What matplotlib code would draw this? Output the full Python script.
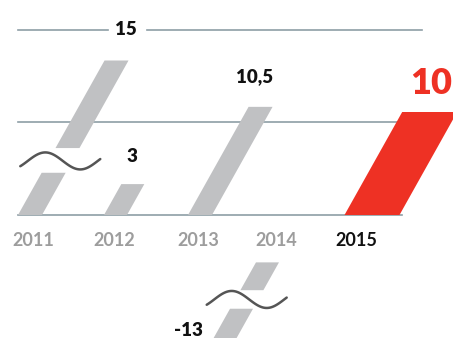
import numpy as np
import matplotlib
matplotlib.use("Agg")
import matplotlib.pyplot as plt
from matplotlib.patches import Polygon

years = ['2011', '2012', '2013', '2014', '2015']
values = [15, 3, 10.5, -13, 10]
value_labels = ['15', '3', '10,5', '-13', '10']

# layout (x in pixels, y in data units)
bar_x = [30, 115.5, 200, 294, 372]
bar_w = [24, 23, 24, 23, 55]
label_x = [33, 114, 198, 276, 356]
colors = ['#c0c1c3', '#c0c1c3', '#c0c1c3', '#c0c1c3', '#ee3124']
year_colors = ['#9d9d9d', '#9d9d9d', '#9d9d9d', '#9d9d9d', '#111111']

scale = 10.3          # px per unit
slant = 0.56 * scale  # x shift per unit of value
grid_levels = [9, 18]

# breaks (value ranges that are not drawn)
gaps = {0: [(4.1, 6.5)], 3: [(-4.6, 0), (-9.1, -7.3)]}
waves = {0: 5.25, 3: -8.2}

fig = plt.figure(figsize=(4.53, 3.38), dpi=100)
ax = fig.add_axes([0, 0, 1, 1])
ax.set_xlim(0, 453)
ax.set_ylim(-123 / scale, 215 / scale)
ax.axis('off')

# grid lines
ax.plot([18, 402], [0, 0], color='#8d9ea6', lw=1.2, zorder=1)
ax.plot([18, 398], [grid_levels[0]] * 2, color='#8d9ea6', lw=1.2, zorder=1)
ax.plot([18, 108], [grid_levels[1]] * 2, color='#8d9ea6', lw=1.2, zorder=1)
ax.plot([147, 422], [grid_levels[1]] * 2, color='#8d9ea6', lw=1.2, zorder=1)


def seg(i, a, b):
    xc, w = bar_x[i], bar_w[i]
    pts = [(xc - w / 2 + slant * a, a), (xc + w / 2 + slant * a, a),
           (xc + w / 2 + slant * b, b), (xc - w / 2 + slant * b, b)]
    ax.add_patch(Polygon(pts, closed=True, color=colors[i], lw=0, zorder=2))


for i, v in enumerate(values):
    lo, hi = min(0, v), max(0, v)
    cuts = sorted(gaps.get(i, []))
    start = lo
    for g0, g1 in cuts:
        if g0 > start:
            seg(i, start, g0)
        start = max(start, g1)
    if hi > start:
        seg(i, start, hi)

# break waves
for i, mid in waves.items():
    xc = bar_x[i] + slant * mid
    xs = np.linspace(xc - 40, xc + 40, 100)
    ys = mid + (8.5 / scale) * np.cos(2 * np.pi * (xs - (xc - 15)) / 70)
    ax.plot(xs, ys, color='#555555', lw=1.8, solid_capstyle='round', zorder=3)

# year labels
for i, y in enumerate(years):
    ax.text(label_x[i], -25 / scale, y, ha='center', va='center',
            fontsize=13, fontweight='bold', color=year_colors[i],
            family='Lato')

# value labels
ax.text(126, grid_levels[1], value_labels[0], ha='center', va='center',
        fontsize=13.5, fontweight='heavy', color='#111111', family='Lato')
ax.text(132, 58 / scale, value_labels[1], ha='center', va='center',
        fontsize=13.5, fontweight='heavy', color='#111111', family='Lato')
ax.text(255, 138 / scale, value_labels[2], ha='center', va='center',
        fontsize=13.5, fontweight='heavy', color='#111111', family='Lato')
ax.text(188, -116 / scale, value_labels[3], ha='center', va='center',
        fontsize=13.5, fontweight='heavy', color='#111111', family='Lato')
ax.text(431, 132 / scale, value_labels[4], ha='center', va='center',
        fontsize=26, fontweight='heavy', color='#ee3124', family='Lato')

fig.savefig('out.png', dpi=100, facecolor='white')
